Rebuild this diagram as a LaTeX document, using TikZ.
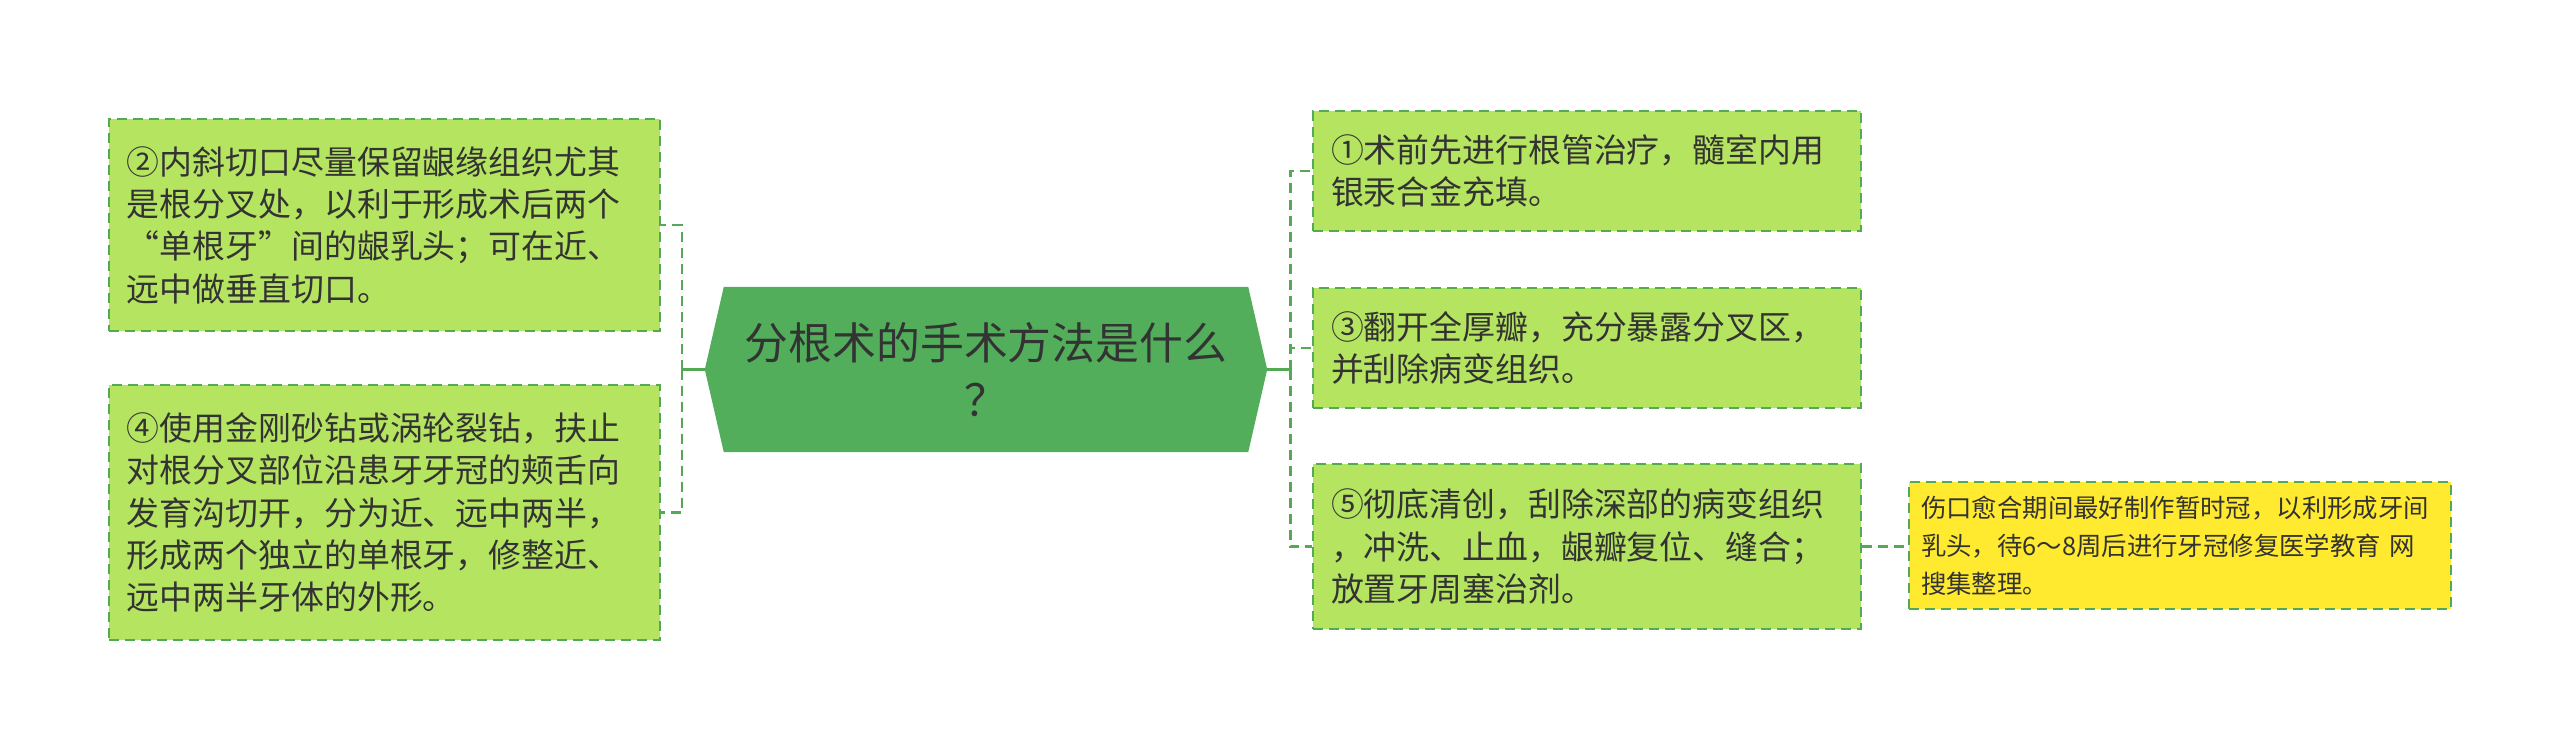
\documentclass[tikz,border=0pt]{standalone}
\usepackage{fontspec}
\setmainfont{Noto Sans CJK SC}
\usetikzlibrary{calc,backgrounds}
\definecolor{boxfill}{RGB}{181,228,96}
\definecolor{boxline}{RGB}{84,170,84}
\definecolor{hexfill}{RGB}{82,174,91}
\definecolor{yelfill}{RGB}{255,234,48}
\definecolor{txt}{RGB}{51,51,51}
\tikzset{
  topic/.style={draw=boxline, fill=boxfill, line width=2.2bp, dash pattern=on 10bp off 6bp,
    inner xsep=18bp, inner ysep=0bp, align=left, text=txt,
    font=\fontsize{33}{42.5}\selectfont, anchor=center},
  note/.style={draw=boxline, fill=yelfill, line width=2.2bp, dash pattern=on 10bp off 6bp,
    inner xsep=12bp, inner ysep=0bp, align=left, text=txt,
    font=\fontsize{25.5}{38}\selectfont, anchor=center},
  link/.style={draw=boxline, line width=2.6bp, dash pattern=on 10bp off 6bp},
  trunk/.style={draw=boxline, line width=2.6bp},
}
\begin{document}
\begin{tikzpicture}[x=1bp,y=-1bp]
\useasboundingbox (0,0) rectangle (2560,751);
% central topic
\node[minimum width=562bp, minimum height=165bp, inner sep=0pt, align=center, text=txt,
  font=\fontsize{44}{58}\selectfont] (hex) at (986,369.5) {分根术的手术方法是什么\\？};
\begin{pgfonlayer}{background}
\fill[hexfill] ($(hex.north west)+(19,0)$) -- ($(hex.north east)+(-19,0)$) -- (hex.east)
  -- ($(hex.south east)+(-19,0)$) -- ($(hex.south west)+(19,0)$) -- (hex.west) -- cycle;
\end{pgfonlayer}
% left topics
\node[topic, text width=515bp, minimum width=551bp, minimum height=212bp] (l2) at (384.5,225)
  {②内斜切口尽量保留龈缘组织尤其\\是根分叉处，以利于形成术后两个\\“单根牙”间的龈乳头；可在近、\\远中做垂直切口。};
\node[topic, text width=515bp, minimum width=551bp, minimum height=255bp] (l4) at (384.5,512.5)
  {④使用金刚砂钻或涡轮裂钻，扶止\\对根分叉部位沿患牙牙冠的颊舌向\\发育沟切开，分为近、远中两半，\\形成两个独立的单根牙，修整近、\\远中两半牙体的外形。};
% right topics
\node[topic, text width=512bp, minimum width=548bp, minimum height=120bp] (r1) at (1587,171)
  {①术前先进行根管治疗，髓室内用\\银汞合金充填。};
\node[topic, text width=512bp, minimum width=548bp, minimum height=120bp] (r3) at (1587,348)
  {③翻开全厚瓣，充分暴露分叉区，\\并刮除病变组织。};
\node[topic, text width=512bp, minimum width=548bp, minimum height=165bp] (r5) at (1587,546.5)
  {⑤彻底清创，刮除深部的病变组织\\，冲洗、止血，龈瓣复位、缝合；\\放置牙周塞治剂。};
\node[note, text width=518bp, minimum width=542bp, minimum height=127bp] (y) at (2180,545.5)
  {伤口愈合期间最好制作暂时冠，以利形成牙间\\乳头，待6～8周后进行牙冠修复医学教育 网\\搜集整理。};
% connectors
\draw[trunk] (hex.east) -- ++(23,0) coordinate (rj);
\draw[link] (rj) |- (r1.west);
\draw[link] (rj) |- (r3.west);
\draw[link] (rj) |- (r5.west);
\draw[trunk] (hex.west) -- ++(-23,0) coordinate (lj);
\draw[link] (lj) |- (l2.east);
\draw[link] (lj) |- (l4.east);
\draw[link] (r5.east) -- (r5.east -| y.west);
\end{tikzpicture}
\end{document}
